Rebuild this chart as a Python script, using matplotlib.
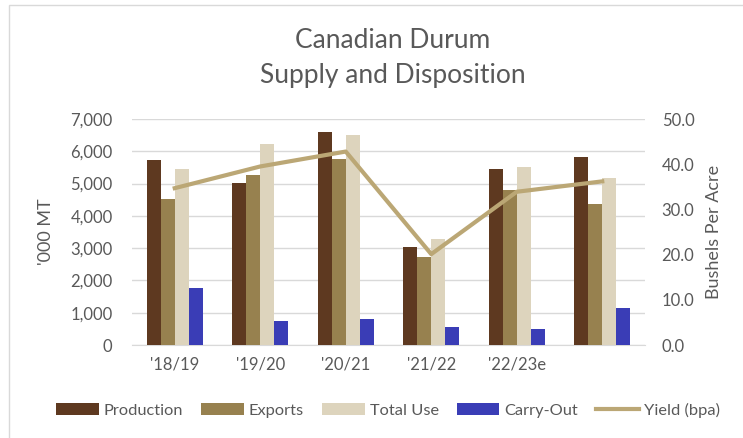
import matplotlib.pyplot as plt
import numpy as np
from matplotlib.patches import Rectangle
from matplotlib.ticker import FuncFormatter

plt.rcParams['font.family'] = ['Lato', 'DejaVu Sans']

seasons = ["'18/19", "'19/20", "'20/21", "'21/22", "'22/23e", ""]
production = [5720, 5010, 6590, 3040, 5440, 5830]
exports = [4530, 5280, 5760, 2730, 4810, 4380]
total_use = [5450, 6230, 6500, 3280, 5520, 5170]
carry_out = [1780, 730, 810, 560, 490, 1150]
yield_bpa = [34.7, 39.5, 42.8, 20.1, 33.9, 36.2]

colors = ['#5E3920', '#97814F', '#DDD4BD', '#3A3DB6']
line_col = '#BBA775'
grey = '#595959'

fig = plt.figure(figsize=(7.43, 4.38), dpi=100)
ax = fig.add_axes([132/743, 1-345/438, 513/743, 226/438])
ax2 = ax.twinx()

x = np.arange(len(seasons))
w = 0.163
series = [production, exports, total_use, carry_out]
names = ['Production', 'Exports', 'Total Use', 'Carry-Out']
for i, (vals, c, n) in enumerate(zip(series, colors, names)):
    ax.bar(x + (i - 1.5) * w, vals, w, color=c, label=n, zorder=3)

ax2.plot(x, yield_bpa, color=line_col, lw=3, label='Yield (bpa)', zorder=4)

ax.set_xlim(-0.5, len(seasons) - 0.5)
ax.set_ylim(0, 7000)
ax.set_yticks(range(0, 7001, 1000))
ax.yaxis.set_major_formatter(FuncFormatter(lambda v, p: f'{v:,.0f}'))
ax2.set_ylim(0, 50)
ax2.set_yticks(range(0, 51, 10))
ax2.yaxis.set_major_formatter(FuncFormatter(lambda v, p: f'{v:.1f}'))
ax.set_xticks(x)
ax.set_xticklabels(seasons)

ax.grid(axis='y', color='#D9D9D9', lw=1, zorder=0)
for a in (ax, ax2):
    for s in a.spines.values():
        s.set_visible(False)
    a.tick_params(length=0, colors=grey, labelsize=12)
ax.spines['bottom'].set_visible(True)
ax.spines['bottom'].set_color('#D9D9D9')
ax.tick_params(axis='x', pad=8)
ax.tick_params(axis='y', pad=14)
ax2.tick_params(axis='y', pad=12)

ax.set_ylabel("'000 MT", fontsize=13, color=grey, labelpad=12)
ax2.set_ylabel('Bushels Per Acre', fontsize=13, color=grey, labelpad=8)

fig.text(393/743, 1-40/438, 'Canadian Durum', ha='center', va='center', fontsize=19, color=grey)
fig.text(393/743, 1-75/438, 'Supply and Disposition', ha='center', va='center', fontsize=19, color=grey)

h1, l1 = ax.get_legend_handles_labels()
h2, l2 = ax2.get_legend_handles_labels()
fig.legend(h1 + h2, l1 + l2, loc='center', bbox_to_anchor=(388/743, 1-410/438), ncol=5,
           frameon=False, fontsize=11.8, labelcolor=grey, handlelength=2.6,
           handletextpad=0.3, columnspacing=1.1)

fig.patches.append(Rectangle((9/743, -0.1), 1.1, 1-5/438 + 0.1, transform=fig.transFigure,
                             fill=False, edgecolor='#D9D9D9', lw=1))

fig.savefig('out.png', dpi=100)
